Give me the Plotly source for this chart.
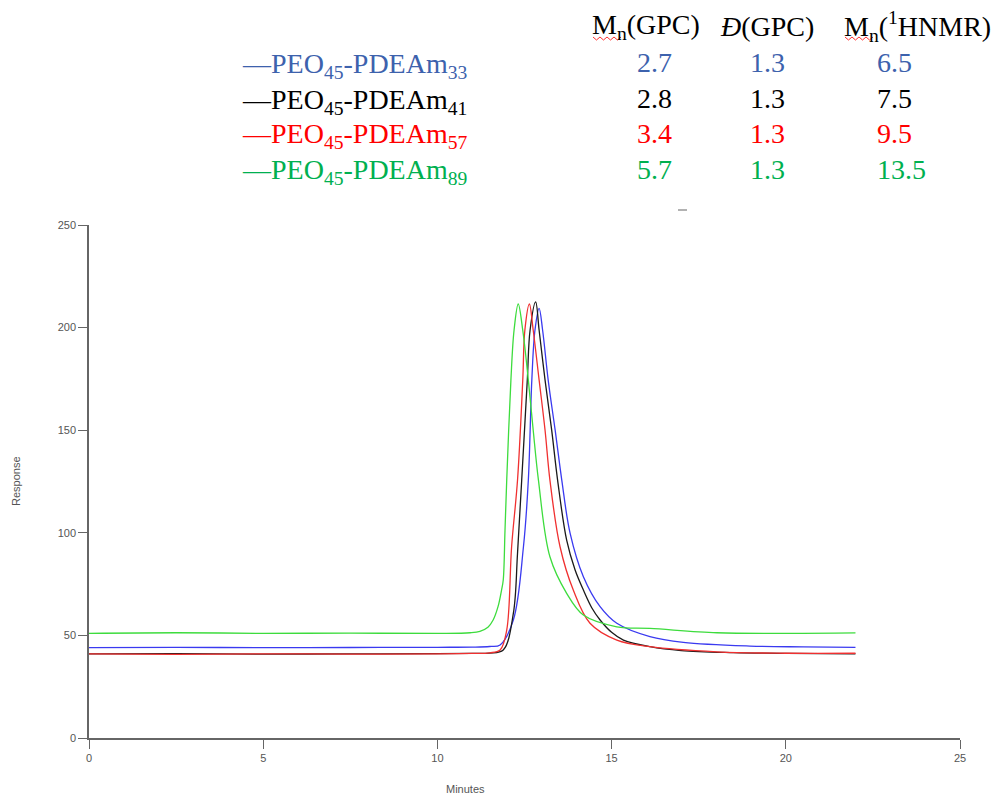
import plotly.graph_objects as go

# ---- data ----
series_names = ["PEO45-PDEAm33", "PEO45-PDEAm41", "PEO45-PDEAm57", "PEO45-PDEAm89"]

blue_x = [0, 2.5, 5, 7.5, 10, 11.0, 11.5, 11.8, 12.18, 12.47, 12.61, 12.71, 12.80, 12.92, 13.02, 13.18, 13.38, 13.57, 13.81, 14.19, 14.67, 15.15, 16.10, 17.06, 18.97, 20.5, 22]
blue_y = [44, 44.2, 44, 44.1, 44.2, 44.3, 44.6, 45.3, 57.5, 93.2, 125.7, 174.4, 198.7, 209.4, 198.7, 174.4, 150, 125.7, 99.7, 78.6, 64, 55.9, 49.4, 46.6, 44.8, 44.4, 44.2]

black_x = [0, 2.5, 5, 7.5, 10, 11.0, 11.5, 11.89, 12.18, 12.30, 12.42, 12.58, 12.66, 12.82, 12.92, 13.09, 13.28, 13.45, 13.71, 13.95, 14.19, 14.43, 14.67, 15.0, 15.34, 16.10, 17.0, 18.5, 20, 22]
black_y = [41, 41.1, 40.9, 41, 41.1, 41.2, 41.4, 42.9, 60.7, 90, 125.7, 174.4, 198.7, 212.5, 198.7, 174.4, 150, 125.7, 96.4, 82, 72.1, 63.5, 57.5, 51.5, 47.7, 44.5, 42.6, 41.6, 41.2, 41]

red_x = [0, 2.5, 5, 7.5, 10, 11.0, 11.5, 11.80, 11.99, 12.13, 12.30, 12.45, 12.51, 12.64, 12.75, 12.92, 13.09, 13.23, 13.52, 13.90, 14.38, 15.15, 16.10, 18.02, 20, 22]
red_y = [41, 40.8, 41, 40.9, 41, 41.2, 41.5, 42.9, 52.6, 93.2, 125.7, 174.4, 198.7, 211.5, 198.7, 174.4, 150, 125.7, 93.2, 72.1, 55.9, 47.7, 44.5, 42.0, 41.3, 41.3]

green_x = [0, 2.5, 5, 7.5, 10, 10.94, 11.22, 11.45, 11.60, 11.74, 11.84, 11.89, 11.94, 11.99, 12.11, 12.20, 12.32, 12.45, 12.61, 12.75, 12.90, 13.23, 13.71, 14.19, 15.15, 16.10, 18.02, 20, 22]
green_y = [51, 51.3, 51, 51.1, 51, 51.3, 52, 54, 57.5, 64, 72, 77, 101, 125.7, 174.4, 198.7, 211.5, 198.7, 174.4, 150, 125.7, 88.3, 70.5, 59.9, 54.2, 53.4, 51.3, 51, 51.2]

line_colors = ["#3a3af0", "#1a1a1a", "#f03030", "#3ddc3d"]
label_colors = ["#3d62ad", "#000000", "#ff0000", "#00b050"]

legend_labels = [
    "—PEO<sub>45</sub>-PDEAm<sub>33</sub>",
    "—PEO<sub>45</sub>-PDEAm<sub>41</sub>",
    "—PEO<sub>45</sub>-PDEAm<sub>57</sub>",
    "—PEO<sub>45</sub>-PDEAm<sub>89</sub>",
]
col_headers = ["M<sub>n</sub>(GPC)", "<i>Đ</i>(GPC)", "M<sub>n</sub>(<sup>1</sup>HNMR)"]
mn_gpc = ["2.7", "2.8", "3.4", "5.7"]
dispersity = ["1.3", "1.3", "1.3", "1.3"]
mn_nmr = ["6.5", "7.5", "9.5", "13.5"]

x_ticks = [0, 5, 10, 15, 20, 25]
y_ticks = [0, 50, 100, 150, 200, 250]

# ---- figure ----
OFF = 8  # page body margin
W, H = 1003 - OFF, 799 - OFF
L, R, T, B = 89 - OFF, 43, 225 - OFF, 61
PW, PH = W - L - R, H - T - B

def px(x):
    return (x - OFF - L) / PW

def py(y):
    return (H - B - (y - OFF)) / PH

fig = go.Figure()
for xs, ys, c, n in [(blue_x, blue_y, line_colors[0], series_names[0]),
                     (black_x, black_y, line_colors[1], series_names[1]),
                     (red_x, red_y, line_colors[2], series_names[2]),
                     (green_x, green_y, line_colors[3], series_names[3])]:
    fig.add_trace(go.Scatter(x=xs, y=ys, mode="lines", name=n,
                             line=dict(color=c, width=1.3, shape="spline", smoothing=1.0)))

serif = "Liberation Serif"
FS = 28
ann = []
row_y = [62, 98, 133, 169]
for i in range(4):
    ann.append(dict(x=px(240), y=py(row_y[i] + 3), text=legend_labels[i], xanchor="left", yanchor="middle",
                    font=dict(family=serif, size=FS, color=label_colors[i])))
    for colx, vals in [(637, mn_gpc), (750, dispersity), (877, mn_nmr)]:
        ann.append(dict(x=px(colx - 2), y=py(row_y[i]), text=vals[i], xanchor="left", yanchor="middle",
                        font=dict(family=serif, size=FS, color=label_colors[i])))
for hx, h in zip([592, 720, 844], col_headers):
    ann.append(dict(x=px(hx - 2), y=py(27), text=h, xanchor="left", yanchor="middle",
                    font=dict(family=serif, size=FS, color="#000000")))

ann.append(dict(x=px(465), y=py(789), text="Minutes", xanchor="center", yanchor="middle",
                font=dict(family="Liberation Sans", size=11, color="#555555")))
ann.append(dict(x=px(16), y=py(481), text="Response", textangle=-90, xanchor="center", yanchor="middle",
                font=dict(family="Liberation Sans", size=11, color="#555555")))
for a in ann:
    a.update(xref="paper", yref="paper", showarrow=False)

# red spell-check squiggles under the "Mn" headers, and a stray dash
shapes = []
for x0 in [593, 845]:
    pts = []
    for k in range(9):
        xx = x0 + k * 3.5
        yy = 37 if k % 2 == 0 else 40
        pts.append((px(xx), py(yy)))
    path = "M " + " L ".join(f"{a:.5f},{b:.5f}" for a, b in pts)
    shapes.append(dict(type="path", path=path, xref="paper", yref="paper",
                       line=dict(color="#ff3030", width=1)))
shapes.append(dict(type="line", xref="paper", yref="paper", x0=px(678), x1=px(687), y0=py(210), y1=py(210),
                   line=dict(color="#999999", width=1.5)))

fig.update_layout(
    width=W, height=H,
    margin=dict(l=L, r=R, t=T, b=B),
    paper_bgcolor="white", plot_bgcolor="white",
    showlegend=False,
    annotations=ann,
    shapes=shapes,
    xaxis=dict(range=[0, 25], tickvals=x_ticks, showgrid=False, zeroline=False,
               showline=True, linecolor="#666666", linewidth=1.5,
               ticks="outside", ticklen=9, tickcolor="#666666", tickwidth=1,
               tickfont=dict(family="Liberation Sans", size=11, color="#555555")),
    yaxis=dict(range=[0, 250], tickvals=y_ticks, showgrid=False, zeroline=False,
               showline=True, linecolor="#666666", linewidth=1.5,
               ticks="outside", ticklen=9, tickcolor="#666666", tickwidth=1,
               tickfont=dict(family="Liberation Sans", size=11, color="#555555")),
)

fig.write_html("out.html")
